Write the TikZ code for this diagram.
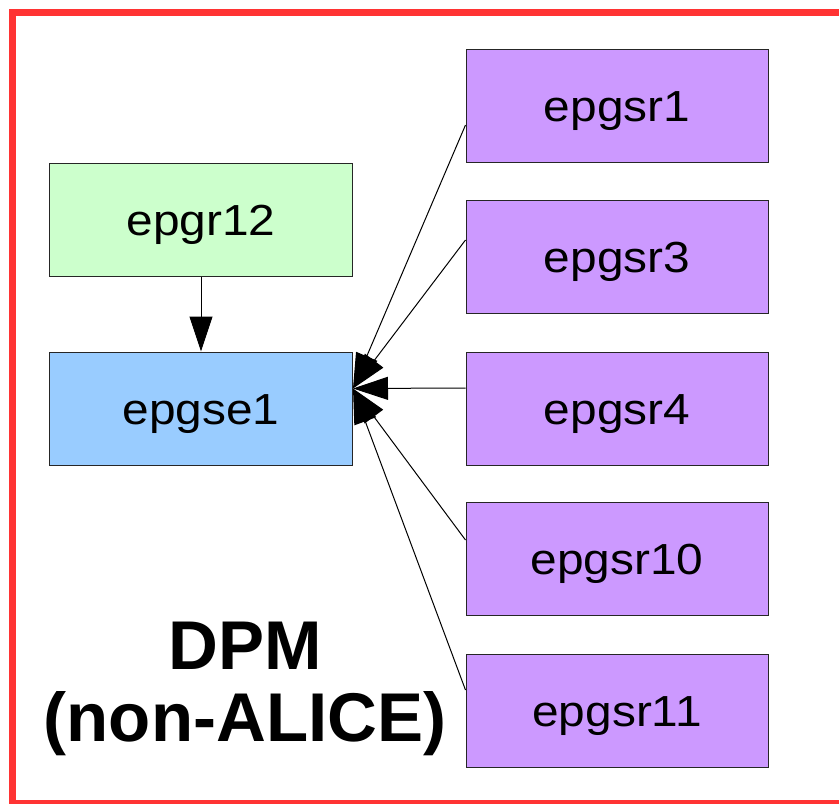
\documentclass[tikz,border=0pt]{standalone}
\usepackage{fontspec}
\setmainfont{Liberation Sans}
\newfontfamily\boxfont[FakeStretch=1.1]{Liberation Sans}
\usetikzlibrary{arrows.meta}
\definecolor{framered}{HTML}{FF3333}
\definecolor{greenfill}{HTML}{CCFFCC}
\definecolor{bluefill}{HTML}{99CCFF}
\definecolor{purplefill}{HTML}{CC99FF}
\tikzset{
  hostbox/.style={draw=black!85, line width=1pt, minimum width=303pt, minimum height=113pt,
    font=\boxfont\fontsize{43.5}{48}\selectfont, text height=31pt, text depth=0pt, inner sep=0pt},
  conn/.style={draw=black, line width=1pt, -{Triangle[length=35pt,width=23pt]}},
  title/.style={font=\bfseries\fontsize{69}{74}\selectfont, anchor=base, inner sep=0pt}
}
\begin{document}
\begin{tikzpicture}[x=1pt,y=-1pt]
\useasboundingbox (0,0) rectangle (839,804);
\clip (0,0) rectangle (839,804);
\draw[framered, line width=7pt] (12,12) rectangle (860,803);
\node[hostbox, fill=greenfill] (e12) at (201,220) {epgr12};
\node[hostbox, fill=bluefill] (e1) at (201,408.5) {epgse1};
\node[hostbox, fill=purplefill, minimum width=302pt] (r1) at (617,105.5) {epgsr1};
\node[hostbox, fill=purplefill, minimum width=302pt] (r3) at (617,257) {epgsr3};
\node[hostbox, fill=purplefill, minimum width=302pt] (r4) at (617,408.5) {epgsr4};
\node[hostbox, fill=purplefill, minimum width=302pt] (r10) at (617,559) {epgsr10};
\node[hostbox, fill=purplefill, minimum width=302pt] (r11) at (617,711) {epgsr11};
\coordinate (tip) at ([yshift=20pt]e1.east);
\draw[conn] (e12.south) -- (e1.north);
\draw[conn] ([yshift=-19.5pt]r1.west) -- (tip);
\draw[conn] ([yshift=17pt]r3.west) -- (tip);
\draw[conn] ([yshift=20.5pt]r4.west) -- (tip);
\draw[conn] ([yshift=19pt]r10.west) -- (tip);
\draw[conn] ([yshift=21pt]r11.west) -- (tip);
\node[title] (dpm) at (245,669) {DPM};
\node[title] (nonalice) at (245,741) {(non-ALICE)};
\end{tikzpicture}
\end{document}
